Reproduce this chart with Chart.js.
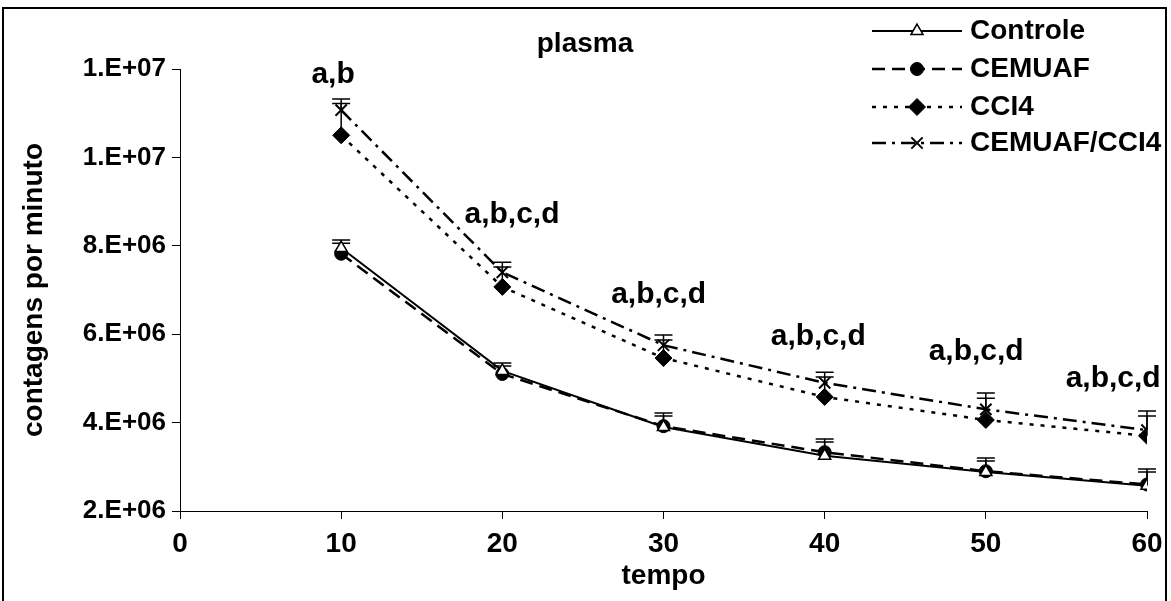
<!DOCTYPE html>
<html>
<head>
<meta charset="utf-8">
<script src="https://cdn.jsdelivr.net/npm/chart.js@4.4.1/dist/chart.umd.min.js"></script>
<style>
  html, body { margin: 0; padding: 0; background: #fff; }
  canvas { display: block; }
</style>
</head>
<body>
<canvas id="chart" width="1171" height="601"></canvas>
<script>
// plasma - contagens por minuto x tempo

const TEMPO = [10, 20, 30, 40, 50, 60];

const CONTROLE    = [7.95e6, 5.17e6, 3.90e6, 3.25e6, 2.88e6, 2.57e6];
const CEMUAF      = [7.82e6, 5.10e6, 3.92e6, 3.33e6, 2.90e6, 2.60e6];
const CCL4        = [1.050e7, 7.07e6, 5.46e6, 4.58e6, 4.06e6, 3.70e6];
const CEMUAF_CCL4 = [1.107e7, 7.40e6, 5.75e6, 4.90e6, 4.30e6, 3.83e6];

// upper error bars only
const ERR_CONTROLE    = [0.18e6, 0.18e6, 0.32e6, 0.38e6, 0.32e6, 0.38e6];
const ERR_CEMUAF      = [0.24e6, 0.18e6, 0.23e6, 0.23e6, 0.23e6, 0.28e6];
const ERR_CCL4        = [0.72e6, 0.45e6, 0.41e6, 0.45e6, 0.49e6, 0.45e6];
const ERR_CEMUAF_CCL4 = [0.25e6, 0.23e6, 0.23e6, 0.24e6, 0.37e6, 0.43e6];

const X_TICKS = [0, 10, 20, 30, 40, 50, 60];
const Y_TICKS = [2e6, 4e6, 6e6, 8e6, 1e7, 1.2e7];

const NOTES  = ['a,b', 'a,b,c,d', 'a,b,c,d', 'a,b,c,d', 'a,b,c,d', 'a,b,c,d'];
const NOTE_X = [9.5, 20.6, 29.7, 39.6, 49.4, 57.9];
const NOTE_Y = [1.186e7, 8.70e6, 6.89e6, 5.94e6, 5.60e6, 5.00e6];

const FONT = '"Liberation Sans", Arial, sans-serif';
const NARROW = '"Liberation Sans Narrow", "Arial Narrow", "Liberation Sans", sans-serif';

// Excel style: 1.E+07
function sci(v) {
  const e = Math.floor(Math.log10(v));
  const m = Math.round(v / Math.pow(10, e));
  return m + '.E+' + String(e).padStart(2, '0');
}

function series(label, data, err, style) {
  return Object.assign({
    label,
    data: TEMPO.map((t, i) => ({ x: t, y: data[i] })),
    err,
    borderColor: '#000',
    pointBorderColor: '#000',
    pointBackgroundColor: '#000',
    pointBorderWidth: 1,
    borderWidth: 2,
    fill: false,
    tension: 0,
  }, style);
}

const datasets = [
  series('Controle', CONTROLE, ERR_CONTROLE, {
    pointStyle: 'triangle', pointRadius: 7, pointBackgroundColor: '#fff', pointBorderWidth: 1.5,
  }),
  series('CEMUAF', CEMUAF, ERR_CEMUAF, {
    borderDash: [13, 7], borderWidth: 2.5, pointStyle: 'circle', pointRadius: 6.5,
  }),
  series('CCI4', CCL4, ERR_CCL4, {
    borderDash: [4, 7], borderWidth: 2.5, pointStyle: 'rectRot', pointRadius: 8.5,
  }),
  series('CEMUAF/CCI4', CEMUAF_CCL4, ERR_CEMUAF_CCL4, {
    borderDash: [14, 6, 3, 6], borderWidth: 2.5, pointStyle: 'crossRot', pointRadius: 8, pointBorderWidth: 2,
  }),
];

// --- Plugins ---

const errorBars = {
  id: 'errorBars',
  beforeDatasetsDraw(chart) {
    const { ctx, scales: { x, y } } = chart;
    ctx.save();
    ctx.strokeStyle = '#000';
    ctx.lineWidth = 1.5;
    chart.data.datasets.forEach(ds => {
      ds.data.forEach((p, i) => {
        const px = x.getPixelForValue(p.x);
        const y0 = y.getPixelForValue(p.y);
        const y1 = y.getPixelForValue(p.y + ds.err[i]);
        ctx.beginPath();
        ctx.moveTo(px, y0);
        ctx.lineTo(px, y1);
        ctx.moveTo(px - 9, y1);
        ctx.lineTo(px + 9, y1);
        ctx.stroke();
      });
    });
    ctx.restore();
  },
};

const extras = {
  id: 'extras',
  afterDraw(chart) {
    const { ctx, scales: { x, y } } = chart;
    ctx.save();

    // letters over the points
    ctx.fillStyle = '#000';
    ctx.font = 'bold 30px ' + FONT;
    ctx.textAlign = 'center';
    ctx.textBaseline = 'middle';
    NOTES.forEach((t, i) => {
      ctx.fillText(t, x.getPixelForValue(NOTE_X[i]), y.getPixelForValue(NOTE_Y[i]));
    });

    // title
    ctx.font = 'bold 28px ' + FONT;
    ctx.fillText('plasma', 585, 44);

    // legend
    const rows = [31, 69, 107, 143];
    chart.data.datasets.forEach((ds, i) => {
      const ly = rows[i];
      ctx.strokeStyle = '#000';
      ctx.lineWidth = ds.borderWidth;
      ctx.setLineDash(ds.borderDash || []);
      ctx.beginPath();
      ctx.moveTo(872, ly);
      ctx.lineTo(962, ly);
      ctx.stroke();
      ctx.setLineDash([]);
      ctx.fillStyle = ds.pointBackgroundColor;
      ctx.lineWidth = ds.pointBorderWidth;
      Chart.helpers.drawPoint(ctx, {
        pointStyle: ds.pointStyle, radius: ds.pointRadius, rotation: 0, borderWidth: ds.pointBorderWidth,
      }, 917, ly);
      ctx.fillStyle = '#000';
      ctx.textAlign = 'left';
      ctx.fillText(ds.label, 970, ly);
    });

    // outer frame
    ctx.strokeStyle = '#000';
    ctx.lineWidth = 2;
    ctx.beginPath();
    ctx.moveTo(3, 601);
    ctx.lineTo(3, 8);
    ctx.lineTo(1166, 8);
    ctx.lineTo(1166, 601);
    ctx.stroke();
    ctx.restore();
  },
};

new Chart(document.getElementById('chart'), {
  type: 'line',
  data: { datasets },
  options: {
    responsive: false,
    animation: false,
    layout: { padding: { top: 69, right: 24, left: 0, bottom: 0 } },
    plugins: { legend: { display: false }, tooltip: { enabled: false } },
    scales: {
      x: {
        type: 'linear',
        min: 0,
        max: 60,
        afterBuildTicks: s => { s.ticks = X_TICKS.map(v => ({ value: v })); },
        grid: { drawOnChartArea: false, tickLength: 8, color: '#000' },
        border: { color: '#000', width: 1 },
        ticks: { color: '#000', font: { family: NARROW, size: 28, weight: 'bold' }, padding: 8 },
        title: {
          display: true, text: 'tempo', color: '#000',
          font: { family: FONT, size: 28, weight: 'bold' }, padding: { top: 0, bottom: 8 },
        },
        afterFit: s => { s.height = 90; },
      },
      y: {
        min: 2e6,
        max: 1.2e7,
        afterBuildTicks: s => { s.ticks = Y_TICKS.map(v => ({ value: v })); },
        grid: { drawOnChartArea: false, tickLength: 8, color: '#000' },
        border: { color: '#000', width: 1 },
        ticks: { color: '#000', font: { family: FONT, size: 26, weight: 'bold' }, padding: 6, callback: v => sci(v) },
        title: {
          display: true, text: 'contagens por minuto', color: '#000',
          font: { family: FONT, size: 28, weight: 'bold' }, padding: { top: 17, bottom: 0 },
        },
        afterFit: s => { s.width = 180; },
      },
    },
  },
  plugins: [errorBars, extras],
});
</script>
</body>
</html>
